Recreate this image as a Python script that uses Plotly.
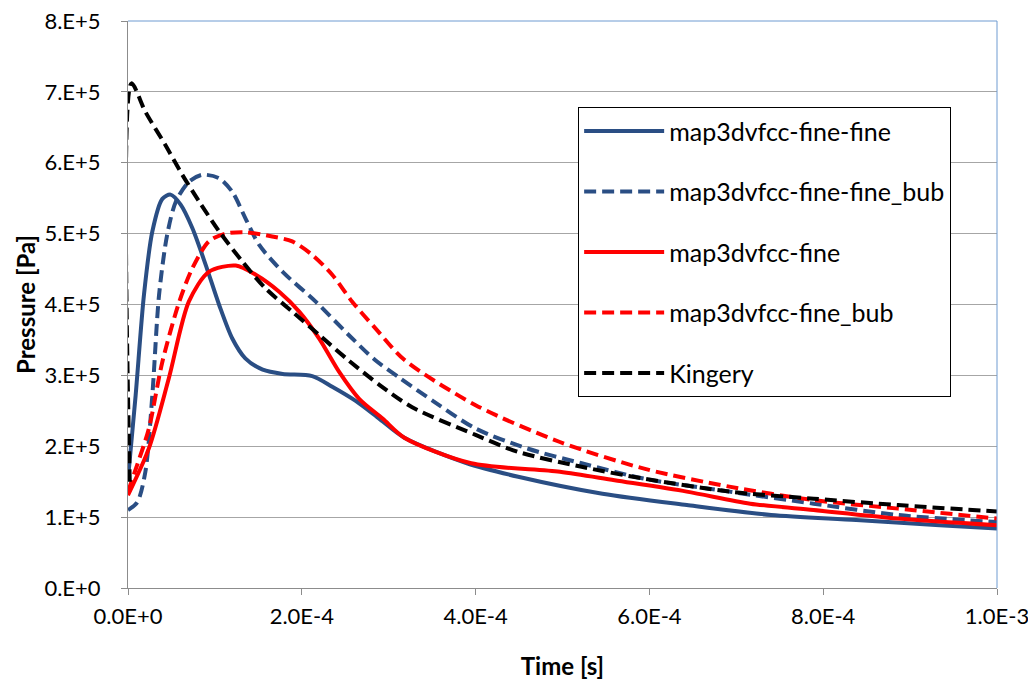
import plotly.graph_objects as go

# ---- data (time in s, pressure in Pa) ----
t_ff = [0, 0.88e-5, 1.84e-5, 2.8e-5, 3.95e-5, 4.9e-5, 6.06e-5, 7.4e-5, 8.94e-5, 1.05e-4, 1.2e-4,
        1.35e-4, 1.55e-4, 1.78e-4, 2.12e-4, 2.35e-4, 2.62e-4, 2.9e-4, 3.18e-4, 3.9e-4, 4.49e-4,
        5.46e-4, 6.43e-4, 7.4e-4, 8.38e-4, 9.34e-4, 1.0e-3]
p_ff = [1.54e5, 2.72e5, 4.14e5, 5.03e5, 5.49e5, 5.55e5, 5.41e5, 5.08e5, 4.56e5, 3.99e5, 3.52e5,
        3.24e5, 3.08e5, 3.02e5, 2.99e5, 2.84e5, 2.64e5, 2.38e5, 2.12e5, 1.76e5, 1.57e5,
        1.33e5, 1.17e5, 1.03e5, 0.96e5, 0.885e5, 0.84e5]

t_ffb = [0, 1.07e-5, 2.0e-5, 2.8e-5, 3.57e-5, 4.5e-5, 5.5e-5, 7.0e-5, 8.55e-5, 1.05e-4, 1.2e-4,
         1.35e-4, 1.51e-4, 1.78e-4, 2.16e-4, 2.54e-4, 2.84e-4, 3.12e-4, 3.52e-4, 4.0e-4, 4.59e-4,
         5.22e-4, 5.95e-4, 6.92e-4, 7.89e-4, 8.86e-4, 1.0e-3]
p_ffb = [1.10e5, 1.21e5, 1.64e5, 2.72e5, 4.13e5, 4.98e5, 5.45e5, 5.73e5, 5.83e5, 5.78e5, 5.59e5,
         5.22e5, 4.84e5, 4.46e5, 4.04e5, 3.57e5, 3.22e5, 2.97e5, 2.63e5, 2.25e5, 1.97e5,
         1.76e5, 1.54e5, 1.36e5, 1.19e5, 1.03e5, 0.93e5]

t_f = [0, 2.4e-5, 4.7e-5, 7.0e-5, 9.3e-5, 1.24e-4, 1.47e-4, 1.74e-4, 1.97e-4, 2.2e-4, 2.43e-4,
       2.66e-4, 2.93e-4, 3.18e-4, 3.95e-4, 4.97e-4, 5.6e-4, 6.43e-4, 7.16e-4, 7.89e-4, 8.86e-4, 1.0e-3]
p_f = [1.31e5, 1.97e5, 2.96e5, 4.04e5, 4.46e5, 4.55e5, 4.42e5, 4.18e5, 3.90e5, 3.52e5, 3.05e5,
       2.67e5, 2.39e5, 2.12e5, 1.76e5, 1.64e5, 1.52e5, 1.36e5, 1.19e5, 1.10e5, 0.98e5, 0.885e5]

t_fb = [0, 0.9e-5, 2.4e-5, 3.95e-5, 5.9e-5, 7.4e-5, 9.3e-5, 1.12e-4, 1.35e-4, 1.66e-4, 1.89e-4,
        2.12e-4, 2.35e-4, 2.58e-4, 2.85e-4, 3.18e-4, 4.0e-4, 4.97e-4, 5.95e-4, 6.92e-4, 7.89e-4,
        8.86e-4, 1.0e-3]
p_fb = [1.36e5, 1.68e5, 2.25e5, 3.19e5, 4.04e5, 4.51e5, 4.89e5, 5.0e5, 5.02e5, 4.96e5, 4.89e5,
        4.70e5, 4.42e5, 4.04e5, 3.66e5, 3.22e5, 2.58e5, 2.06e5, 1.68e5, 1.43e5, 1.24e5,
        1.12e5, 0.98e5]

t_k = [2.0e-6, 4.0e-6, 2.0e-5, 4.3e-5, 6.25e-5, 8.2e-5, 1.05e-4, 1.32e-4, 1.58e-4, 1.89e-4, 2.2e-4,
       2.55e-4, 2.9e-4, 3.27e-4, 4.0e-4, 4.49e-4, 5.22e-4, 5.95e-4, 6.92e-4, 7.89e-4, 8.86e-4, 1.0e-3]
p_k = [1.5e5, 7.12e5, 6.72e5, 6.25e5, 5.83e5, 5.45e5, 5.03e5, 4.60e5, 4.23e5, 3.90e5, 3.57e5,
       3.20e5, 2.86e5, 2.55e5, 2.16e5, 1.92e5, 1.71e5, 1.54e5, 1.36e5, 1.26e5, 1.17e5, 1.08e5]

names = ["map3dvfcc-fine-fine", "map3dvfcc-fine-fine_bub", "map3dvfcc-fine",
         "map3dvfcc-fine_bub", "Kingery"]

x_tickvals = [0, 2e-4, 4e-4, 6e-4, 8e-4, 1e-3]
x_ticktext = ["0.0E+0", "2.0E-4", "4.0E-4", "6.0E-4", "8.0E-4", "1.0E-3"]
y_tickvals = [0, 1e5, 2e5, 3e5, 4e5, 5e5, 6e5, 7e5, 8e5]
y_ticktext = ["0.E+0", "1.E+5", "2.E+5", "3.E+5", "4.E+5", "5.E+5", "6.E+5", "7.E+5", "8.E+5"]

BLUE = "#2A4E84"
RED = "#FF0000"
DASH = "12px,6px"
FONT = "Lato"

series = [
    (t_ff, p_ff, BLUE, "solid"),
    (t_ffb, p_ffb, BLUE, DASH),
    (t_f, p_f, RED, "solid"),
    (t_fb, p_fb, RED, DASH),
    (t_k, p_k, "#000000", DASH),
]

fig = go.Figure()
for i, ((tx, py, col, dash), nm) in enumerate(zip(series, names)):
    fig.add_trace(go.Scatter(
        x=tx, y=py, mode="lines", name=nm, legendgroup=f"g{i}",
        line=dict(color=col, width=4, dash=dash, shape="spline", smoothing=0.8),
    ))

fig.update_layout(
    width=1036, height=682,
    margin=dict(l=120, r=47, t=13, b=102),
    paper_bgcolor="white", plot_bgcolor="white",
    font=dict(family=FONT, size=22, color="#000000"),
    showlegend=True,
    legend=dict(
        x=0.518, y=0.848, xanchor="left", yanchor="top",
        bordercolor="#000000", borderwidth=1, bgcolor="white",
        font=dict(family=FONT, size=25),
        tracegroupgap=25, traceorder="grouped",
        itemwidth=80,
    ),
    xaxis=dict(
        range=[0, 1e-3], tickvals=x_tickvals, ticktext=x_ticktext,
        showgrid=False, zeroline=False, automargin=False,
        showline=True, linecolor="#8c8c8c", linewidth=1,
        ticks="outside", ticklen=6, tickcolor="#8c8c8c",
        ticklabelstandoff=3, ticklabeloverflow="allow",
        tickfont=dict(family=FONT, size=22),
        title=dict(text="<b>Time [s]</b>", font=dict(family=FONT, size=24), standoff=29),
    ),
    yaxis=dict(
        range=[0, 8e5], tickvals=y_tickvals, ticktext=y_ticktext,
        showgrid=True, gridcolor="#a6a6a6", gridwidth=1, zeroline=False, automargin=False,
        showline=True, linecolor="#8c8c8c", linewidth=1,
        ticks="outside", ticklen=6, tickcolor="#8c8c8c",
        ticklabelstandoff=16, ticklabeloverflow="allow",
        tickfont=dict(family=FONT, size=22),
        title=dict(text="<b>Pressure [Pa]</b>", font=dict(family=FONT, size=24), standoff=2),
    ),
    shapes=[
        dict(type="line", xref="paper", yref="paper", x0=0, x1=1, y0=1, y1=1,
             line=dict(color="#6f9bd1", width=1)),
        dict(type="line", xref="paper", yref="paper", x0=1, x1=1, y0=0, y1=1,
             line=dict(color="#6f9bd1", width=1)),
    ],
)

fig.write_html("out.html")
